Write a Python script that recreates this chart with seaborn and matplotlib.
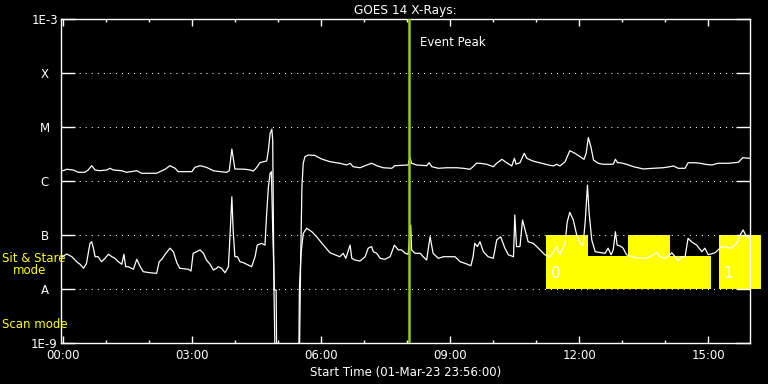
import matplotlib
matplotlib.use("Agg")
import matplotlib.pyplot as plt
from matplotlib.ticker import NullLocator, MultipleLocator
import seaborn as sns
import pandas as pd

# ---------------- data (hours after 00:00, flux W/m^2) ----------------
long_t = [-0.07, 0.00, 0.08, 0.23, 0.35, 0.50, 0.58, 0.66, 0.74, 0.85,
          1.01, 1.09, 1.16, 1.36, 1.47, 1.71, 1.82, 2.17, 2.25, 2.37,
          2.48, 2.60, 2.67, 2.99, 3.06, 3.18, 3.33, 3.49, 3.64, 3.80,
          3.86, 3.92, 3.95, 3.99, 4.23, 4.34, 4.42, 4.50, 4.57, 4.73,
          4.77, 4.81, 4.85, 4.87, 4.90, 4.94, 5.48, 5.52, 5.55, 5.58,
          5.62, 5.70, 5.85, 6.01, 6.20, 6.43, 6.59, 6.67, 6.74, 6.90,
          7.06, 7.17, 7.29, 7.44, 7.64, 7.71, 8.02, 8.06, 8.10, 8.22,
          8.45, 8.51, 8.57, 8.72, 8.92, 9.15, 9.30, 9.46, 9.53, 9.61,
          9.69, 9.85, 10.00, 10.08, 10.20, 10.31, 10.43, 10.49, 10.53, 10.62,
          10.72, 10.78, 10.89, 10.97, 11.13, 11.28, 11.40, 11.47, 11.55, 11.67,
          11.72, 11.78, 11.90, 12.02, 12.11, 12.16, 12.21, 12.27, 12.33, 12.44,
          12.56, 12.79, 12.84, 12.89, 12.95, 13.10, 13.26, 13.49, 13.72, 13.95,
          14.11, 14.19, 14.30, 14.46, 14.53, 14.69, 14.81, 14.92, 15.08, 15.23,
          15.47, 15.70, 15.80, 15.97]
long_f = [1.6e-6, 1.55e-6, 1.65e-6, 1.6e-6, 1.45e-6, 1.45e-6, 1.6e-6, 1.92e-6, 1.6e-6, 1.55e-6,
          1.6e-6, 1.72e-6, 1.6e-6, 1.55e-6, 1.45e-6, 1.55e-6, 1.39e-6, 1.39e-6, 1.49e-6, 1.65e-6,
          1.92e-6, 1.72e-6, 1.49e-6, 1.49e-6, 1.79e-6, 1.92e-6, 1.79e-6, 1.55e-6, 1.49e-6, 1.45e-6,
          1.55e-6, 3.9e-6, 2.75e-6, 1.67e-6, 1.65e-6, 1.6e-6, 1.53e-6, 1.79e-6, 2.18e-6, 2.35e-6,
          3.75e-6, 7.6e-6, 9.1e-6, 5.7e-6, 9.6e-9, 1e-10, 1e-10, 3.4e-8, 7.8e-7, 2.13e-6,
          2.82e-6, 3.03e-6, 2.97e-6, 2.55e-6, 2.28e-6, 2.13e-6, 1.98e-6, 2.13e-6, 1.84e-6, 1.76e-6,
          1.98e-6, 2.13e-6, 1.92e-6, 1.76e-6, 1.72e-6, 1.92e-6, 1.98e-6, 2.75e-6, 2.13e-6, 1.98e-6,
          1.92e-6, 2.18e-6, 1.84e-6, 1.72e-6, 1.76e-6, 1.76e-6, 1.72e-6, 1.65e-6, 1.84e-6, 2.13e-6,
          2.13e-6, 2.04e-6, 1.84e-6, 2.13e-6, 2.52e-6, 2.18e-6, 1.9e-6, 2.63e-6, 2.05e-6, 2.18e-6,
          3.26e-6, 2.63e-6, 2.4e-6, 2.28e-6, 2.13e-6, 1.98e-6, 1.9e-6, 2.04e-6, 1.9e-6, 2.28e-6,
          2.82e-6, 3.64e-6, 3.26e-6, 2.82e-6, 2.52e-6, 3.26e-6, 6.4e-6, 4.3e-6, 2.45e-6, 2.13e-6,
          2.04e-6, 2.05e-6, 2.52e-6, 2.18e-6, 2.18e-6, 2.04e-6, 1.84e-6, 1.67e-6, 1.72e-6, 1.76e-6,
          1.84e-6, 1.9e-6, 1.72e-6, 1.72e-6, 2.18e-6, 2.18e-6, 2.13e-6, 2.04e-6, 1.98e-6, 2.13e-6,
          2.13e-6, 2.22e-6, 2.7e-6, 2.63e-6]

short_t = [-0.07, 0.08, 0.20, 0.31, 0.39, 0.47, 0.54, 0.58, 0.62, 0.66,
           0.70, 0.74, 0.81, 0.89, 0.97, 1.05, 1.13, 1.20, 1.28, 1.36,
           1.41, 1.45, 1.51, 1.63, 1.71, 1.78, 1.86, 2.02, 2.17, 2.23,
           2.29, 2.37, 2.48, 2.56, 2.64, 2.71, 2.91, 2.97, 3.02, 3.10,
           3.18, 3.26, 3.33, 3.41, 3.49, 3.57, 3.60, 3.68, 3.76, 3.84,
           3.88, 3.92, 3.95, 3.99, 4.05, 4.11, 4.19, 4.30, 4.38, 4.46,
           4.51, 4.61, 4.69, 4.73, 4.77, 4.81, 4.84, 4.87, 4.91, 4.95,
           4.97, 5.47, 5.49, 5.53, 5.58, 5.66, 5.78, 5.89, 6.05, 6.20,
           6.32, 6.43, 6.51, 6.57, 6.67, 6.71, 6.78, 6.90, 7.02, 7.09,
           7.17, 7.21, 7.29, 7.37, 7.48, 7.60, 7.70, 7.79, 7.87, 7.95,
           8.02, 8.08, 8.10, 8.18, 8.30, 8.37, 8.45, 8.53, 8.60, 8.72,
           8.84, 9.11, 9.23, 9.34, 9.48, 9.53, 9.57, 9.63, 9.69, 9.77,
           9.88, 10.00, 10.08, 10.17, 10.27, 10.35, 10.47, 10.50, 10.54, 10.62,
           10.68, 10.74, 10.81, 10.93, 11.01, 11.13, 11.20, 11.32, 11.40, 11.47,
           11.55, 11.67, 11.72, 11.78, 11.86, 11.94, 12.02, 12.09, 12.14, 12.19,
           12.23, 12.29, 12.37, 12.60, 12.67, 12.74, 12.79, 12.84, 12.88, 12.95,
           13.02, 13.10, 13.30, 13.53, 13.64, 13.80, 13.88, 13.99, 14.11, 14.15,
           14.23, 14.30, 14.38, 14.46, 14.53, 14.61, 14.73, 14.85, 14.92, 15.00,
           15.16, 15.31, 15.54, 15.66, 15.74, 15.81, 15.89, 15.97]
short_f = [3.7e-8, 4.45e-8, 3.96e-8, 3.2e-8, 2.87e-8, 2.42e-8, 2.99e-8, 4.58e-8, 7.0e-8, 7.5e-8,
           5.7e-8, 3.96e-8, 3.96e-8, 3.2e-8, 3.7e-8, 4.4e-8, 3.96e-8, 3.7e-8, 3.2e-8, 2.87e-8,
           4.4e-8, 2.59e-8, 2.59e-8, 2.32e-8, 3.55e-8, 2.67e-8, 2.09e-8, 2.0e-8, 1.95e-8, 3.2e-8,
           3.55e-8, 4.4e-8, 5.7e-8, 4.9e-8, 3.07e-8, 2.42e-8, 2.32e-8, 2.15e-8, 4.58e-8, 4.9e-8,
           5.3e-8, 4.58e-8, 3.44e-8, 2.9e-8, 2.25e-8, 2.42e-8, 2.59e-8, 2.42e-8, 2.0e-8, 2.59e-8,
           1.07e-7, 5.1e-7, 1.24e-7, 3.96e-8, 3.96e-8, 3.2e-8, 3.07e-8, 2.78e-8, 2.59e-8, 3.96e-8,
           6.5e-8, 7.0e-8, 6.5e-8, 2.5e-7, 7.8e-7, 1.39e-6, 1.49e-6, 1.24e-7, 9.6e-9, 9.6e-9,
           1e-10, 1e-10, 9.6e-9, 4.6e-8, 1.07e-7, 1.33e-7, 1.15e-7, 9.3e-8, 6.5e-8, 4.7e-8,
           4.3e-8, 3.96e-8, 4.58e-8, 3.7e-8, 6.5e-8, 3.7e-8, 3.44e-8, 3.3e-8, 3.96e-8, 5.7e-8,
           6.1e-8, 4.9e-8, 4.58e-8, 3.7e-8, 3.55e-8, 3.96e-8, 6.5e-8, 5.3e-8, 5.3e-8, 4.58e-8,
           4.4e-8, 1.53e-7, 5.3e-8, 4.58e-8, 4.58e-8, 3.96e-8, 3.44e-8, 9.3e-8, 4.58e-8, 3.7e-8,
           3.96e-8, 3.96e-8, 3.2e-8, 2.99e-8, 2.7e-8, 3.96e-8, 7.0e-8, 6.1e-8, 7.5e-8, 4.9e-8,
           3.96e-8, 3.7e-8, 8.1e-8, 9.3e-8, 5.7e-8, 4.3e-8, 3.96e-8, 2.35e-7, 6.1e-8, 6.1e-8,
           1.9e-7, 1.24e-7, 7.5e-8, 7.0e-8, 6.1e-8, 4.9e-8, 4.3e-8, 3.96e-8, 4.9e-8, 6.1e-8,
           4.3e-8, 7.0e-8, 1.76e-7, 2.63e-7, 1.9e-7, 1.0e-7, 7.0e-8, 6.5e-8, 1.9e-7, 8.4e-7,
           2.5e-7, 8.1e-8, 4.9e-8, 4.58e-8, 5.7e-8, 4.3e-8, 5.3e-8, 1.15e-7, 6.5e-8, 6.25e-8,
           5.7e-8, 4.3e-8, 3.8e-8, 3.7e-8, 3.96e-8, 4.7e-8, 3.96e-8, 3.7e-8, 4.3e-8, 4.7e-8,
           3.96e-8, 3.34e-8, 3.96e-8, 3.96e-8, 8.7e-8, 7.5e-8, 6.5e-8, 4.9e-8, 5.7e-8, 4.3e-8,
           4.7e-8, 6.1e-8, 5.7e-8, 7.0e-8, 1.0e-7, 1.24e-7, 9.3e-8, 8.7e-8]

# observing-mode blocks (start/end hours, top flux); base at 1e-8
mode_start = [11.23, 12.20, 13.13, 14.11, 15.25]
mode_end = [12.20, 13.13, 14.11, 15.06, 16.22]
mode_top = [1e-7, 4.1e-8, 1e-7, 4.1e-8, 1e-7]
mode_base = 1e-8
mode_labels = ["0", "1"]
mode_label_t = [11.34, 15.36]

event_peak = 8.04
ytick_vals = [1e-9, 1e-8, 1e-7, 1e-6, 1e-5, 1e-4, 1e-3]
ytick_labels = ["1E-9", "A", "B", "C", "M", "X", "1E-3"]
xtick_vals = [0, 3, 6, 9, 12, 15]
xtick_labels = ["00:00", "03:00", "06:00", "09:00", "12:00", "15:00"]

# ---------------- style ----------------
sns.set_style("dark", rc={"axes.facecolor": "black", "figure.facecolor": "black"})
plt.rcParams["font.family"] = ["DejaVu Sans"]
plt.rcParams["text.color"] = "white"

fig = plt.figure(figsize=(7.68, 3.84), dpi=100, facecolor="black")
ax = fig.add_axes([60.5 / 768, 41 / 384, 689.5 / 768, 324 / 384])
ax.set_facecolor("black")
ax.set_yscale("log")
ax.set_axisbelow(False)

df_long = pd.DataFrame({"hours": long_t, "flux": long_f})
df_short = pd.DataFrame({"hours": short_t, "flux": short_f})

# mode blocks
heights = [t - mode_base for t in mode_top]
widths = [e - s for s, e in zip(mode_start, mode_end)]
bars = ax.bar(mode_start, heights, width=widths, bottom=mode_base, align="edge",
              color="#ffff00", linewidth=0, zorder=1.6)
for b in bars:
    b.set_clip_on(False)
for lab, t in zip(mode_labels, mode_label_t):
    ax.text(t, 1.9e-8, lab, color="white", fontsize=11, ha="left", va="center", zorder=2.2)

sns.lineplot(data=df_long, x="hours", y="flux", ax=ax, color="white", lw=0.9,
             estimator=None, sort=False, zorder=2)
sns.lineplot(data=df_short, x="hours", y="flux", ax=ax, color="white", lw=0.9,
             estimator=None, sort=False, zorder=2)

ax.axvline(event_peak, color="#94cc00", lw=1.8, zorder=3)
ax.text(8.30, 3.6e-4, "Event Peak", color="white", fontsize=8.5, ha="left", va="center")

ax.set_xlim(-0.065, 15.97)
ax.set_ylim(1e-9, 1e-3)

ax.set_yticks(ytick_vals, labels=ytick_labels)
ax.yaxis.set_minor_locator(NullLocator())
ax.set_xticks(xtick_vals, labels=xtick_labels)
ax.xaxis.set_minor_locator(MultipleLocator(1))

ax.tick_params(axis="y", which="major", direction="in", length=10, width=1,
               left=True, right=True, colors="white", labelsize=8.5, pad=11.5)
for lbl in ax.get_yticklabels():
    lbl.set_horizontalalignment("center")
ax.tick_params(axis="x", which="major", direction="in", length=5, width=1,
               bottom=True, top=True, colors="white", labelsize=8.5, pad=4)
ax.tick_params(axis="x", which="minor", direction="in", length=2.5, width=1,
               bottom=True, top=True, colors="white")

ax.grid(False)
ax.yaxis.grid(True, which="major", color="white", linestyle=(0, (1, 4.8)), linewidth=0.75)

for s in ax.spines.values():
    s.set_color("white")
    s.set_linewidth(1)
    s.set_visible(True)

ax.set_title("GOES 14 X-Rays:", color="white", fontsize=8.7, pad=3.5)
ax.set_xlabel("Start Time (01-Mar-23 23:56:00)", color="white", fontsize=8.5, labelpad=3)
ax.set_ylabel("")

fig.text(2 / 768, 1 - 259 / 384, "Sit & Stare", color="#ffff00", fontsize=8.5,
         ha="left", va="center")
fig.text(13 / 768, 1 - 271 / 384, "mode", color="#ffff00", fontsize=8.5,
         ha="left", va="center")
fig.text(2 / 768, 1 - 324 / 384, "Scan mode", color="#ffff00", fontsize=8.5,
         ha="left", va="center")

fig.savefig("out.png", dpi=100, facecolor="black")
